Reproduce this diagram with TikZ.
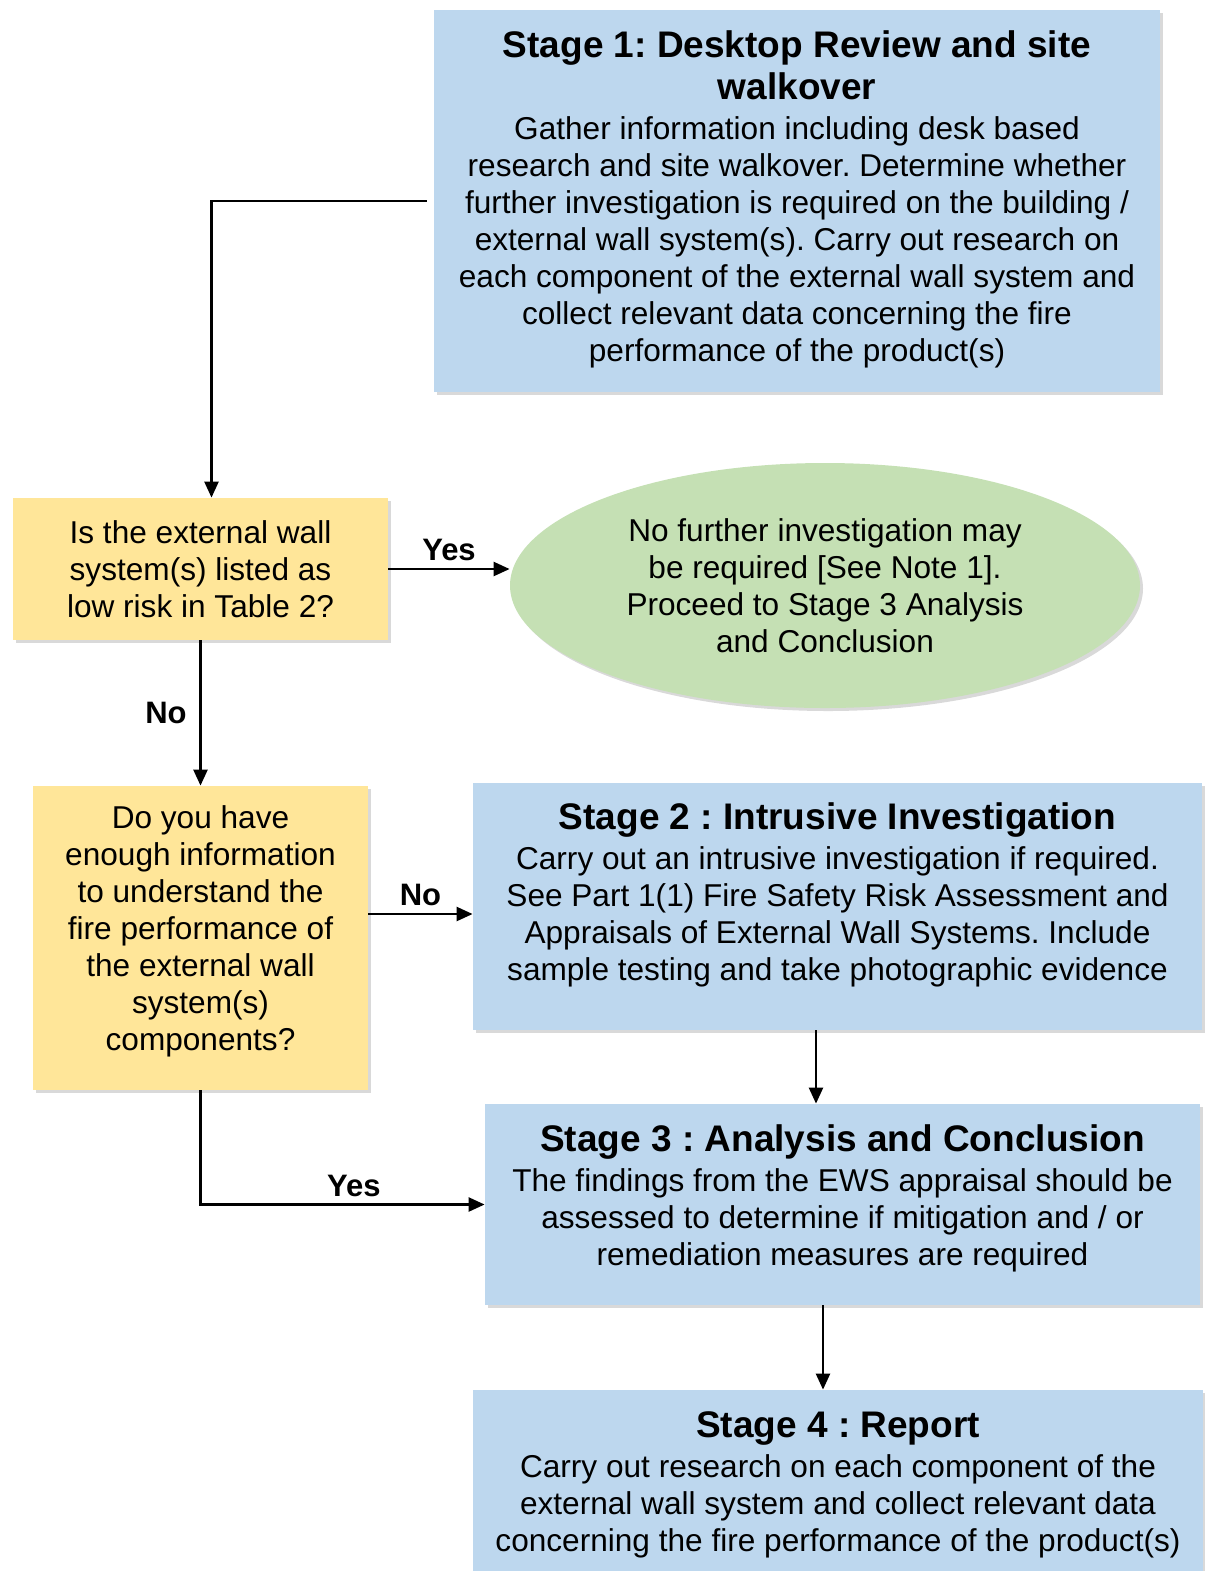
\documentclass[tikz,border=0pt]{standalone}
\usepackage{fontspec}
\setmainfont{Liberation Sans}
\usetikzlibrary{arrows.meta,positioning,shadows,shapes}
\frenchspacing

\definecolor{stageblue}{HTML}{BDD7EE}
\definecolor{askyellow}{HTML}{FFE699}
\definecolor{notegreen}{HTML}{C5E0B4}

\newcommand{\ttl}{\fontsize{18.5}{21}\selectfont\bfseries}
\newcommand{\padbelow}[1]{\rule[-#1]{0pt}{#1}}

\tikzset{
  softshadow/.style={drop shadow={opacity=0.3,shadow xshift=1.5pt,shadow yshift=-1.5pt}},
  stagebox/.style={fill=stageblue,align=center,inner sep=0pt,softshadow,font=\fontsize{15.8}{18.5}\selectfont},
  askbox/.style={fill=askyellow,align=center,inner sep=0pt,softshadow,font=\fontsize{15.8}{18.5}\selectfont},
  arr/.style={-{Triangle[length=8pt,width=7pt]},line width=1.2pt},
  answer/.style={font=\fontsize{15.5}{18}\selectfont\bfseries}
}

\begin{document}
\begin{tikzpicture}[x=0.5pt,y=-0.5pt]
\useasboundingbox (0,0) rectangle (1205,1571);

% stages
\node[stagebox,minimum width=363pt,minimum height=191pt] (stage1) at (797,201) {{\ttl Stage 1: Desktop Review and site}\\[2.5pt]{\ttl walkover}\\[1.5pt]Gather information including desk based\\research and site walkover. Determine whether\\further investigation is required on the building /\\external wall system(s). Carry out research on\\each component of the external wall system and\\collect relevant data concerning the fire\\performance of the product(s)\padbelow{5pt}};
\node[stagebox,minimum width=364.5pt,minimum height=123.5pt] (stage2) at (837.5,906.5) {{\ttl Stage 2 : Intrusive Investigation}\\[1.5pt]Carry out an intrusive investigation if required.\\See Part 1(1) Fire Safety Risk Assessment and\\Appraisals of External Wall Systems. Include\\sample testing and take photographic evidence\padbelow{15pt}};
\node[stagebox,minimum width=357.5pt,minimum height=100.5pt] (stage3) at (842.5,1204.5) {{\ttl Stage 3 : Analysis and Conclusion}\\[1.5pt]The findings from the EWS appraisal should be\\assessed to determine if mitigation and / or\\remediation measures are required\padbelow{9pt}};
\node[stagebox,minimum width=365pt,minimum height=100pt] (stage4) at (838,1490) {{\ttl Stage 4 : Report}\\[1.5pt]Carry out research on each component of the\\external wall system and collect relevant data\\concerning the fire performance of the product(s)\padbelow{8pt}};

% questions
\node[askbox,minimum width=187.5pt,minimum height=71pt] (q1) at (200.5,569) {Is the external wall\\system(s) listed as\\low risk in Table 2?};
\node[askbox,minimum width=167.5pt,minimum height=152pt] (q2) at (200.5,938) {Do you have\\enough information\\to understand the\\fire performance of\\the external wall\\system(s)\\components?\padbelow{10pt}};
\node[ellipse,fill=notegreen,softshadow,align=center,inner sep=0pt,minimum width=315pt,minimum height=122.5pt,font=\fontsize{15.8}{18.5}\selectfont] (note) at (825,585.5) {No further investigation may\\be required [See Note 1].\\Proceed to Stage 3 Analysis\\and Conclusion};

% connectors
\draw[arr] ([xshift=-3.5pt]stage1.west) -| ([xshift=5.5pt]q1.north);
\draw[arr] (q1.east) -- (q1.east -| note.west) node[midway,above,answer] {Yes};
\draw[arr] (q1.south) -- (q2.north) node[midway,left=3pt,answer] {No};
\draw[arr] (q2.east |- 0,914) -- (stage2.west |- 0,914) node[midway,above,answer] {No};
\draw[arr] (q2.south) |- (stage3.west) node[pos=0.77,above,answer] {Yes};
\draw[arr] ([xshift=-10.75pt]stage2.south) -- ([xshift=-10.75pt]stage2.south |- stage3.north);
\draw[arr] ([xshift=-9.75pt]stage3.south) -- ([xshift=-9.75pt]stage3.south |- stage4.north);
\end{tikzpicture}
\end{document}
